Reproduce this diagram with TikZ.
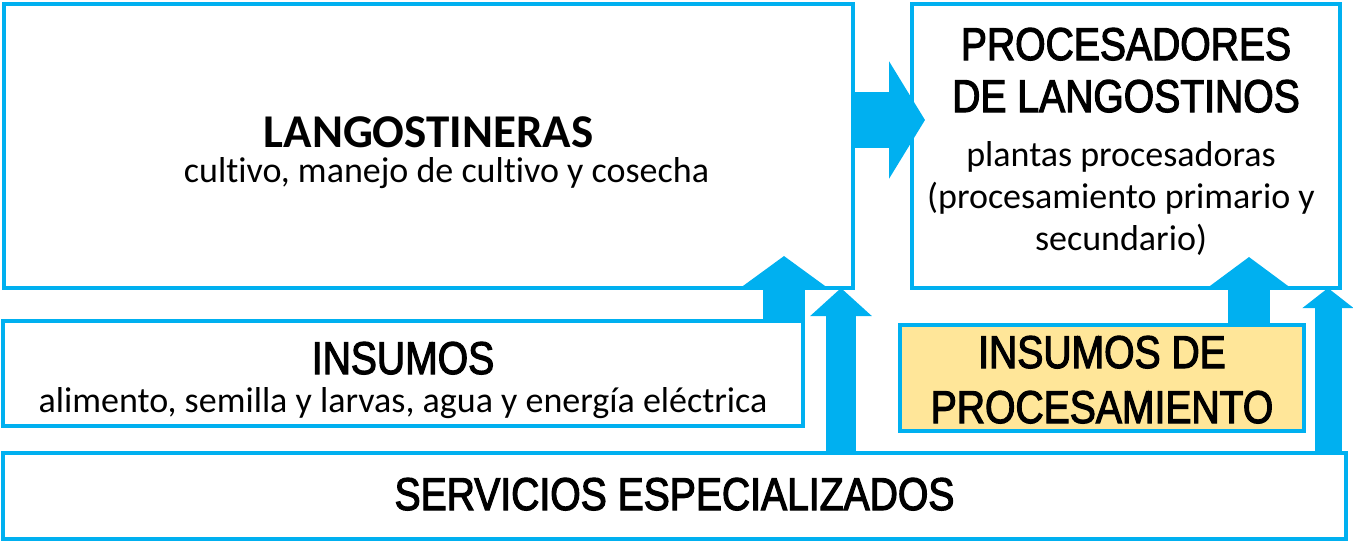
\documentclass[tikz,border=0pt]{standalone}
\usepackage{fontspec}
\setmainfont[Ligatures=NoCommon]{Carlito}
\newfontfamily\narrowfont[FakeStretch=0.85,FakeBold=2.5]{Liberation Sans}
\usetikzlibrary{arrows.meta,positioning}
\definecolor{cyanline}{HTML}{00B0F0}
\definecolor{paleyellow}{HTML}{FFE699}

\begin{document}
\begin{tikzpicture}[
  x=1pt, y=-1pt,
  box/.style={draw=cyanline, line width=4pt, rectangle, inner sep=0pt, outer sep=0pt, anchor=north west},
  bigtitle/.style={font=\narrowfont\fontsize{46}{50}\selectfont, anchor=base, inner sep=0pt},
  bigcalibri/.style={font=\bfseries\fontsize{47}{52}\selectfont, anchor=base, inner sep=0pt},
  subline/.style={font=\fontsize{36}{40}\selectfont, anchor=base, inner sep=0pt},
  fat/.style={draw=cyanline, line cap=butt},
  ]
  \useasboundingbox (0,0) rectangle (1353,542);

  % boxes
  \node[box, minimum width=849pt, minimum height=284pt] (lang) at (4,4) {};
  \node[box, minimum width=428pt, minimum height=284pt] (proc) at (912,4) {};
  \node[box, minimum width=800pt, minimum height=105pt] (ins) at (3,321) {};
  \node[box, fill=paleyellow, minimum width=404pt, minimum height=106pt] (insproc) at (900,325) {};
  \node[box, minimum width=1343pt, minimum height=86pt] (serv) at (3,453) {};

  % texts
  \node[bigcalibri] (langT) at ([yshift=-143pt]lang.north) {LANGOSTINERAS};
  \node[subline] (langS) at ([yshift=-178pt,xshift=18pt]lang.north) {cultivo, manejo de cultivo y cosecha};
  \node[bigtitle] (procT1) at ([yshift=-56pt]proc.north) {PROCESADORES};
  \node[bigtitle] (procT2) at ([yshift=-108pt]proc.north) {DE LANGOSTINOS};
  \node[subline] (procS1) at ([yshift=-162pt,xshift=-5pt]proc.north) {plantas procesadoras};
  \node[subline] (procS2) at ([yshift=-204pt,xshift=-5pt]proc.north) {(procesamiento primario y};
  \node[subline] (procS3) at ([yshift=-246pt,xshift=-5pt]proc.north) {secundario)};
  \node[bigtitle] (insT) at ([yshift=-53pt]ins.north) {INSUMOS};
  \node[subline] (insS) at ([yshift=-91pt]ins.north) {alimento, semilla y larvas, agua y energía eléctrica};
  \node[bigtitle] (ipT1) at ([yshift=-43pt]insproc.north) {INSUMOS DE};
  \node[bigtitle] (ipT2) at ([yshift=-98pt]insproc.north) {PROCESAMIENTO};
  \node[bigtitle] (servT) at ([yshift=-57pt]serv.north) {SERVICIOS ESPECIALIZADOS};

  % arrow axes
  \coordinate (a1) at (784,0);
  \coordinate (a2) at (841,0);
  \coordinate (a3) at (1249,0);
  \coordinate (a4) at (1328,0);
  \coordinate (r1) at (0,120);

  \draw[fat, line width=56pt, -{Triangle[width=116pt,length=36pt]}, shorten >=-13pt] (lang.east |- r1) -- (proc.west |- r1);
  \draw[fat, line width=42pt, -{Triangle[width=86pt,length=32pt]}, shorten >=-32pt] (ins.north -| a1) -- (lang.south -| a1);
  \draw[fat, line width=30pt, -{Triangle[width=60pt,length=28pt]}] (serv.north -| a2) -- (lang.south -| a2);
  \draw[fat, line width=42pt, -{Triangle[width=82pt,length=31pt]}, shorten >=-31pt] (insproc.north -| a3) -- (proc.south -| a3);
  \draw[fat, line width=27pt, -{Triangle[width=50pt,length=20pt]}] (serv.north -| a4) -- (proc.south -| a4);
\end{tikzpicture}
\end{document}
